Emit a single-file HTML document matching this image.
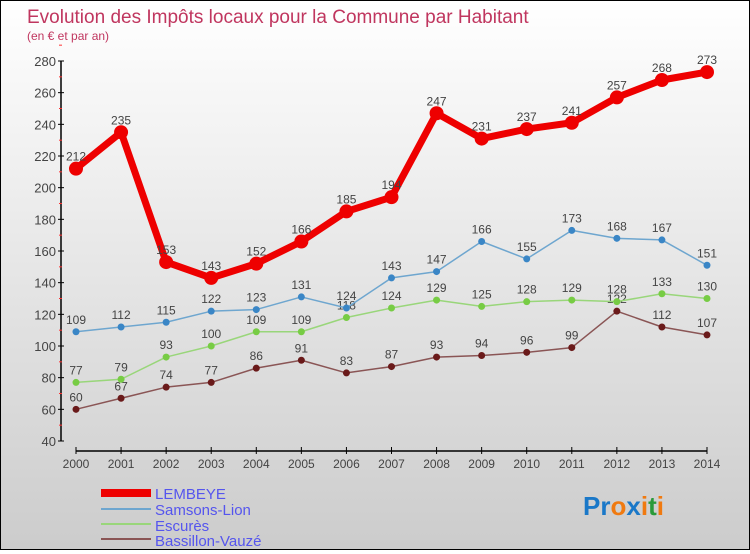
<!DOCTYPE html>
<html><head><meta charset="utf-8"><style>
body{margin:0;width:750px;height:550px;overflow:hidden;font-family:"Liberation Sans",sans-serif}
#wrap{position:relative;width:748px;height:548px;border:1px solid #000;background:linear-gradient(#fff,#ccc)}
</style></head><body>
<div id="wrap">
<svg id="c" width="748" height="548" xmlns="http://www.w3.org/2000/svg">
<text x="26" y="22" font-size="19" fill="#c0365f">Evolution des Impôts locaux pour la Commune par Habitant</text>
<text x="26" y="39" font-size="12" fill="#c0365f">(en € et par an)</text>
<g id="axes"></g><g id="series"></g>
<g font-size="15" fill="#5555ee">
<rect x="100" y="488" width="50" height="8" fill="#e00"/>
<text x="154" y="498">LEMBEYE</text>
<rect x="100" y="507" width="50" height="2" fill="#6ea6cf"/>
<text x="154" y="514">Samsons-Lion</text>
<rect x="100" y="522" width="50" height="2" fill="#99d67a"/>
<text x="154" y="530">Escurès</text>
<rect x="100" y="537" width="50" height="2" fill="#8a5555"/>
<text x="154" y="545">Bassillon-Vauzé</text>
</g>
<text x="582" y="514" font-size="26" font-weight="bold"><tspan fill="#1a78c8">Pr</tspan><tspan fill="#f07a10">o</tspan><tspan fill="#1a78c8">x</tspan><tspan fill="#f07a10">i</tspan><tspan fill="#2a9a3a">t</tspan><tspan fill="#f07a10">i</tspan></text>
</svg></div>
<script>
const years=[2000,2001,2002,2003,2004,2005,2006,2007,2008,2009,2010,2011,2012,2013,2014];
const lembeye=[212,235,153,143,152,166,185,194,247,231,237,241,257,268,273];
const samsons=[109,112,115,122,123,131,124,143,147,166,155,173,168,167,151];
const escures=[77,79,93,100,109,109,118,124,129,125,128,129,128,133,130];
const bassillon=[60,67,74,77,86,91,83,87,93,94,96,99,122,112,107];
const yTicks=[40,60,80,100,120,140,160,180,200,220,240,260,280];
const NS="http://www.w3.org/2000/svg";
function X(i){return 75+i*(631/14);}
function Y(v){return 440-(v-40)*(380/240);}
function mk(t,a,p){const e=document.createElementNS(NS,t);for(const k in a)e.setAttribute(k,a[k]);p.appendChild(e);return e;}
const ax=document.getElementById('axes');
const yl=mk('line',{x1:60,y1:Y(280),x2:60,y2:Y(40),stroke:'#000','stroke-width':1.5},ax);


yTicks.forEach(v=>{
 mk('line',{x1:57,x2:63,y1:Y(v),y2:Y(v),stroke:'#000'},ax);
 mk('line',{x1:58,x2:61,y1:Y(v+10),y2:Y(v+10),stroke:'#f33'},ax);
 const t=mk('text',{x:55,y:Y(v)+5,'text-anchor':'end','font-size':13,fill:'#444'},ax);t.textContent=v;
 
 
});
const xl=mk('line',{x1:X(0),y1:450,x2:X(14),y2:450,stroke:'#000','stroke-width':1.5},ax);


years.forEach((y,i)=>{
 mk('line',{x1:X(i),x2:X(i),y1:446,y2:453,stroke:'#000'},ax);
 const t=mk('text',{x:X(i),y:467,'text-anchor':'middle','font-size':12,fill:'#444'},ax);t.textContent=y;
 
 
});
const sg=document.getElementById('series');
function series(data,name,color,w,r,dot){
 const g=mk('g',{},sg);
 
 
 mk('polyline',{points:data.map((v,i)=>X(i)+','+Y(v)).join(' '),fill:'none',stroke:color,'stroke-width':w,'stroke-linejoin':'round'},g);
 data.forEach((v,i)=>{
  const c=mk('circle',{cx:X(i),cy:Y(v),r:r,fill:dot},g);
  
  
  const t=mk('text',{x:X(i),y:Y(v)-8,'text-anchor':'middle','font-size':12,fill:'#444'},g);t.textContent=v;
  
  
 });
}
series(bassillon,'bassillon-vauze','#8a5555',1.5,3.5,'#6a1a1a');
series(escures,'escures','#99d67a',1.5,3.5,'#77cc44');
series(samsons,'samsons-lion','#6ea6cf',1.5,3.5,'#3a86c6');
series(lembeye,'lembeye','#ee0000',7,7,'#ee0000');
</script></body></html>
